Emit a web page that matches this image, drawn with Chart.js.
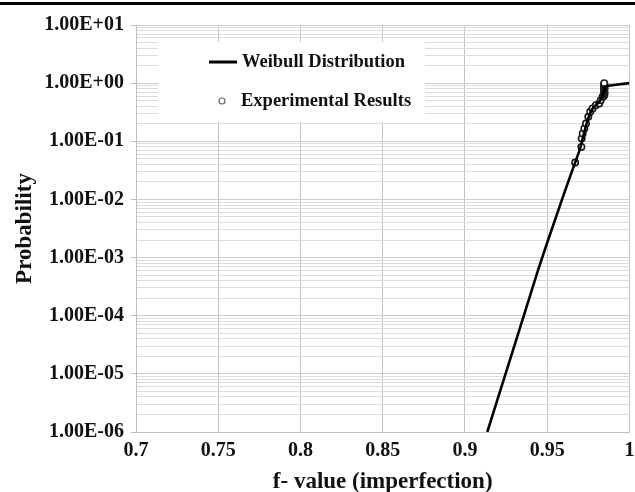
<!DOCTYPE html>
<html><head><meta charset="utf-8">
<script src="https://cdn.jsdelivr.net/npm/chart.js@4.4.1/dist/chart.umd.min.js"></script>
<style>html,body{margin:0;padding:0;background:#fff;overflow:hidden}#wrap{position:relative;width:635px;height:492px}</style>
</head><body><div id="wrap"><canvas id="c"></canvas></div>
<script>
// ---- data ----
const weibullX = [0.9136, 0.920, 0.930, 0.940, 0.9444, 0.950, 0.960, 0.965, 0.967, 0.970, 0.9735, 0.975, 0.9765, 0.978, 0.980, 0.982, 0.9835, 0.9847, 0.9852, 0.9874, 0.993, 1.000];
const weibullY = [1.0e-6, 3.8e-6, 3.0e-5, 2.4e-4, 6.0e-4, 1.8e-3, 1.2e-2, 0.030, 0.043, 0.074, 0.18, 0.25, 0.32, 0.38, 0.43, 0.49, 0.58, 0.75, 0.88, 0.90, 0.95, 1.0];
const expX = [0.9670, 0.9708, 0.9710, 0.9716, 0.9726, 0.9736, 0.9750, 0.9762, 0.9776, 0.9796, 0.9817, 0.9826, 0.9837,
              0.9845, 0.9847, 0.9849, 0.9846, 0.9848, 0.9847, 0.9849, 0.9846, 0.9848, 0.9847, 0.9847];
const expY = [0.043, 0.080, 0.112, 0.136, 0.166, 0.202, 0.263, 0.321, 0.367, 0.418, 0.447, 0.510, 0.581,
              0.60, 0.64, 0.68, 0.72, 0.76, 0.80, 0.84, 0.88, 0.92, 0.96, 1.0];
const xTickValues = [0.7, 0.75, 0.8, 0.85, 0.9, 0.95, 1.0];
const xTickLabels = ['0.7', '0.75', '0.8', '0.85', '0.9', '0.95', '1'];
const yDecades = [1e-6, 1e-5, 1e-4, 1e-3, 1e-2, 1e-1, 1e0, 1e1];
const yDecadeLabels = ['1.00E-06', '1.00E-05', '1.00E-04', '1.00E-03', '1.00E-02', '1.00E-01', '1.00E+00', '1.00E+01'];
const seriesNames = ['Weibull Distribution', 'Experimental Results'];

// grid positions for log scale (decades + minor 2..9)
const yGrid = [];
yDecades.forEach((d, i) => {
  yGrid.push(d);
  if (i < yDecades.length - 1) for (let m = 2; m <= 9; m++) yGrid.push(d * m);
});
const decadeIndex = v => yDecades.findIndex(d => Math.abs(v / d - 1) < 1e-9);

const SERIF = '"Liberation Serif", "Times New Roman", serif';
const TXT = '#111';

const deco = {
  id: 'deco',
  beforeDraw(chart) {
    const c = chart.ctx; c.save(); c.fillStyle = '#fff'; c.fillRect(0, 0, chart.width, chart.height); c.restore();
  },
  beforeDatasetsDraw(chart) {
    const c = chart.ctx; c.save();
    c.fillStyle = '#fff';
    c.fillRect(158, 42, 267, 80);
    const ds = chart.data.datasets;
    const wl = ds.find(d => d.label === seriesNames[0]);
    const ex = ds.find(d => d.label === seriesNames[1]);
    c.strokeStyle = wl.borderColor; c.lineWidth = 3;
    c.beginPath(); c.moveTo(209, 62); c.lineTo(237, 62); c.stroke();
    c.strokeStyle = '#666'; c.lineWidth = 1.2; c.fillStyle = '#fff';
    c.beginPath(); c.arc(222, 101, 3, 0, Math.PI * 2); c.fill(); c.stroke();
    c.fillStyle = TXT; c.font = 'bold 18.5px ' + SERIF; c.textBaseline = 'middle'; c.textAlign = 'left';
    c.fillText(wl.label, 242, 62);
    c.fillText(ex.label, 241, 101);
    c.restore();
  },
  afterDraw(chart) {
    const c = chart.ctx; c.save(); c.fillStyle = '#000'; c.fillRect(0, 2, chart.width, 3); c.restore();
  }
};

new Chart(document.getElementById('c'), {
  type: 'scatter',
  data: {
    datasets: [
      {
        label: seriesNames[1],
        order: 1,
        data: expX.map((x, i) => ({ x, y: expY[i] })),
        showLine: false,
        pointRadius: 3.2,
        pointBorderWidth: 1.6,
        pointBorderColor: '#1a1a1a',
        pointBackgroundColor: '#fff'
      },
      {
        label: seriesNames[0],
        order: 0,
        data: weibullX.map((x, i) => ({ x, y: weibullY[i] })),
        showLine: true,
        pointRadius: 0,
        borderColor: '#000',
        borderWidth: 2.6,
        tension: 0
      }
    ]
  },
  options: {
    responsive: true,
    maintainAspectRatio: false,
    animation: false,
    layout: { padding: { top: 25, right: 3, left: 0, bottom: 0 } },
    plugins: { legend: { display: false }, tooltip: { enabled: false } },
    scales: {
      x: {
        type: 'linear', min: 0.7, max: 1.0,
        afterBuildTicks: s => { s.ticks = xTickValues.map(v => ({ value: v })); },
        ticks: {
          callback: (v, i) => xTickLabels[i],
          font: { family: SERIF, size: 20, weight: 'bold' }, color: TXT,
          padding: 7, maxRotation: 0, autoSkip: false
        },
        grid: { color: '#c4c4c4', drawTicks: false },
        border: { color: '#bfbfbf' },
        title: { display: true, text: 'f- value (imperfection)', color: TXT,
          font: { family: SERIF, size: 23, weight: 'bold', lineHeight: 0.9 }, padding: { top: 0, bottom: 0 } },
        afterFit: s => { s.height = 60; s.paddingLeft = 0; s.paddingRight = 0; }
      },
      y: {
        type: 'logarithmic', min: 1e-6, max: 10,
        afterBuildTicks: s => { s.ticks = yGrid.map(v => ({ value: v, major: decadeIndex(v) >= 0 })); },
        ticks: {
          callback: v => { const k = decadeIndex(v); return k >= 0 ? yDecadeLabels[k] : ''; },
          font: { family: SERIF, size: 20, weight: 'bold' }, color: TXT,
          padding: 7, autoSkip: false
        },
        grid: {
          color: ctx => (ctx.tick && decadeIndex(ctx.tick.value) >= 0) ? '#cccccc' : '#dcdcdc',
          tickLength: 5,
          tickColor: ctx => (ctx.tick && decadeIndex(ctx.tick.value) >= 0) ? '#bfbfbf' : 'rgba(0,0,0,0)'
        },
        border: { color: '#bfbfbf' },
        title: { display: true, text: 'Probability', color: TXT,
          font: { family: SERIF, size: 23, weight: 'bold', lineHeight: 1.2 }, padding: { top: 11, bottom: 0 } },
        afterFit: s => { s.width = 136; s.paddingTop = 0; s.paddingBottom = 0; }
      }
    }
  },
  plugins: [deco]
});
</script>
</body></html>
